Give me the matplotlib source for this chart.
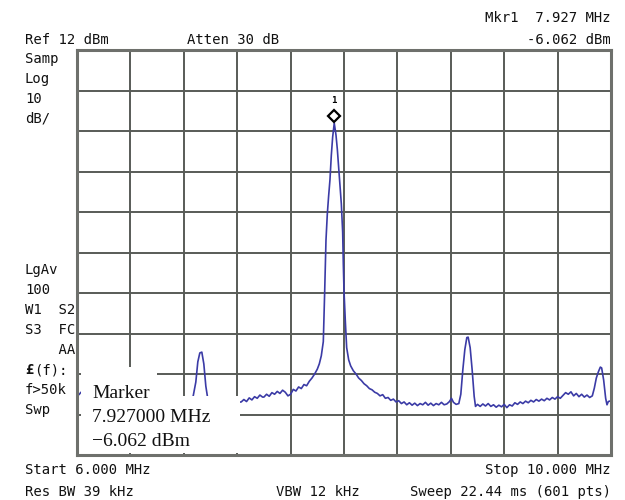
import numpy as np
import matplotlib
matplotlib.use('Agg')
from matplotlib import pyplot as plt
from matplotlib.patches import Rectangle
import matplotlib.transforms as mtransforms

# analyzer settings
f_start = 6.0
f_stop = 10.0
ref_level = 12
db_per_div = 10
mkr_freq = 7.927
mkr_level = -6.062

# trace (MHz, dBm)
freq = [
    6.000, 6.015, 6.030, 6.06, 6.10, 6.15, 6.20, 6.25, 6.30, 6.35, 6.40, 6.45,
    6.50, 6.55, 6.60, 6.65, 6.70, 6.75, 6.80, 6.84, 6.87, 6.89, 6.905, 6.92,
    6.935, 6.95, 6.965, 6.98, 7.00, 7.05, 7.10, 7.15, 7.20, 7.23, 7.25, 7.27,
    7.29, 7.31, 7.33, 7.35, 7.37, 7.39, 7.40, 7.42, 7.44, 7.46, 7.48, 7.50,
    7.52, 7.54, 7.56, 7.58, 7.60, 7.62, 7.64, 7.66, 7.68, 7.70, 7.72, 7.74,
    7.76, 7.78, 7.80, 7.815, 7.83, 7.845, 7.855, 7.865, 7.875, 7.885, 7.895,
    7.905, 7.915, 7.927, 7.94, 7.95, 7.96, 7.97, 7.98, 7.99, 7.995, 8.00,
    8.01, 8.02, 8.035, 8.05, 8.07, 8.09, 8.11, 8.13, 8.15, 8.17, 8.19, 8.21,
    8.23, 8.25, 8.27, 8.29, 8.31, 8.33, 8.35, 8.37, 8.39, 8.41, 8.43, 8.45,
    8.47, 8.49, 8.51, 8.53, 8.55, 8.57, 8.59, 8.61, 8.63, 8.65, 8.67, 8.69,
    8.71, 8.73, 8.75, 8.77, 8.79, 8.805, 8.82, 8.84, 8.86, 8.875, 8.89, 8.905,
    8.92, 8.93, 8.945, 8.96, 8.975, 8.985, 9.00, 9.02, 9.04, 9.06, 9.08, 9.10,
    9.12, 9.14, 9.16, 9.18, 9.20, 9.22, 9.24, 9.26, 9.28, 9.30, 9.32, 9.34,
    9.36, 9.38, 9.40, 9.42, 9.44, 9.46, 9.48, 9.50, 9.52, 9.54, 9.56, 9.58,
    9.60, 9.62, 9.64, 9.66, 9.68, 9.70, 9.72, 9.74, 9.76, 9.78, 9.80, 9.82,
    9.84, 9.86, 9.875, 9.89, 9.905, 9.92, 9.93, 9.945, 9.96, 9.97, 9.98, 10.00,
]
level = [
    -72.7, -73.1, -72.5, -73.4, -72.8, -73.6, -73.0, -74.0, -73.2, -73.9, -73.4, -74.2,
    -73.6, -74.4, -73.8, -74.5, -73.9, -74.6, -74.0, -74.3, -73.5, -70.0, -65.0, -62.8,
    -62.6, -65.5, -71.0, -74.2, -74.6, -74.0, -74.8, -74.2, -75.0, -74.9, -74.3, -74.8,
    -73.9, -74.4, -73.6, -74.0, -73.2, -73.7, -73.7, -73.0, -73.5, -72.6, -73.0, -72.3,
    -72.8, -72.0, -72.5, -73.4, -73.0, -71.8, -72.2, -71.2, -71.6, -70.6, -70.9, -69.8,
    -69.0, -68.0, -66.8, -65.5, -63.5, -60.0, -48.0, -35.0, -28.5, -24.0, -20.0,
    -14.0, -9.5, -6.062, -9.0, -12.5, -17.0, -21.5, -26.0, -33.0, -41.0, -47.5,
    -55.0, -61.5, -64.5, -66.0, -67.2, -68.0, -69.0, -69.6, -70.4, -70.9, -71.6, -71.9,
    -72.5, -72.8, -73.4, -73.1, -74.0, -73.8, -74.5, -74.2, -74.9, -74.6, -75.3, -74.9,
    -75.6, -75.1, -75.7, -75.2, -75.8, -75.3, -75.6, -75.0, -75.7, -75.2, -75.8, -75.3,
    -75.6, -75.0, -75.6, -75.4, -74.8, -74.0, -75.0, -75.5, -75.3, -73.0, -67.0, -62.0,
    -59.0, -58.9, -61.5, -67.0, -73.5, -76.0, -75.5, -76.0, -75.4, -75.9, -75.3, -76.0,
    -75.6, -76.2, -75.7, -76.1, -75.5, -76.3, -75.6, -75.9, -75.1, -75.5, -74.9, -75.3,
    -74.7, -75.1, -74.5, -74.9, -74.3, -74.7, -74.2, -74.6, -74.0, -74.4, -73.8, -74.2,
    -73.6, -74.0, -73.3, -72.6, -73.0, -72.4, -73.4, -72.8, -73.6, -73.0, -73.7, -73.2,
    -73.8, -73.4, -71.5, -69.0, -67.5, -66.3, -66.5, -69.5, -74.0, -75.6, -74.8, -74.6,
]

W, H = 625, 500
fig = plt.figure(figsize=(W / 100, H / 100), dpi=100)
fig.patch.set_facecolor('white')

# graticule occupies x 77..611, y 50..455 px
ax = fig.add_axes([77 / W, 1 - 455 / H, 534 / W, 405 / H])
ax.set_xlim(f_start, f_stop)
ax.set_ylim(ref_level - 10 * db_per_div, ref_level)
ax.set_xticks(np.linspace(f_start, f_stop, 11))
ax.set_yticks(np.arange(ref_level - 10 * db_per_div, ref_level + 1, db_per_div))
ax.tick_params(length=0, labelbottom=False, labelleft=False)
ax.grid(True, color='#585b57', linewidth=1.4, zorder=1)
ax.set_axisbelow(True)
for sp in ax.spines.values():
    sp.set_color('#6e706c')
    sp.set_linewidth(2.2)
    sp.set_zorder(6)

trace_col = '#3b3ba6'
ax.plot(freq, level, color=trace_col, linewidth=1.2, zorder=3)

# marker diamond sits just above the peak
off = mtransforms.offset_copy(ax.transData, fig=fig, x=0, y=5, units='points')
ax.plot([mkr_freq], [mkr_level], marker='D', markersize=6.5, mfc='white',
        mec='black', mew=1.6, transform=off, zorder=7, clip_on=False)
off2 = mtransforms.offset_copy(ax.transData, fig=fig, x=0, y=13, units='points')
ax.text(mkr_freq, mkr_level, '1', transform=off2, ha='center', va='bottom',
        fontsize=6.5, fontweight='bold', family='DejaVu Sans Mono', zorder=7)

# white marker readout box covering the lower-left corner
ax.add_patch(Rectangle((4 / 534, 58 / 405), 76 / 534, 30 / 405, transform=ax.transAxes,
                       facecolor='white', edgecolor='none', zorder=5))
ax.add_patch(Rectangle((4 / 534, 2 / 405), 159 / 534, 57 / 405, transform=ax.transAxes,
                       facecolor='white', edgecolor='none', zorder=5))
serif = ['Liberation Serif', 'DejaVu Serif']
for txt, py in [('Marker', 393), ('7.927000 MHz', 418), ('\u22126.062 dBm', 441)]:
    fig.text(92 / W, 1 - py / H, txt, ha='left', va='center', fontsize=14,
             family=serif, color='#111111', zorder=8)

mono = ['DejaVu Sans Mono']
def px_text(x, y, s, ha='left', **kw):
    fig.text(x / W, 1 - y / H, s, ha=ha, va='center', fontsize=10,
             family=mono, color='#111111', **kw)

px_text(611, 18, 'Mkr1  7.927 MHz', ha='right')
px_text(25, 40, 'Ref 12 dBm')
px_text(187, 40, 'Atten 30 dB')
px_text(611, 40, '-6.062 dBm', ha='right')

left_col = [('Samp', 59), ('Log', 79), ('10', 99), ('dB/', 119),
            ('LgAv', 270), ('100', 290), ('W1  S2', 310), ('S3  FC', 330),
            ('    AA', 350), ('f>50k', 390), ('Swp', 410)]
for s, y in left_col:
    px_text(25, y, s)
px_text(25, 370, '\u00a3', fontweight='bold')
px_text(34, 370, '(f):')

px_text(25, 470, 'Start 6.000 MHz')
px_text(611, 470, 'Stop 10.000 MHz', ha='right')
px_text(25, 492, 'Res BW 39 kHz')
px_text(276, 492, 'VBW 12 kHz')
px_text(611, 492, 'Sweep 22.44 ms (601 pts)', ha='right')

fig.savefig('out.png', dpi=100, facecolor='white')
